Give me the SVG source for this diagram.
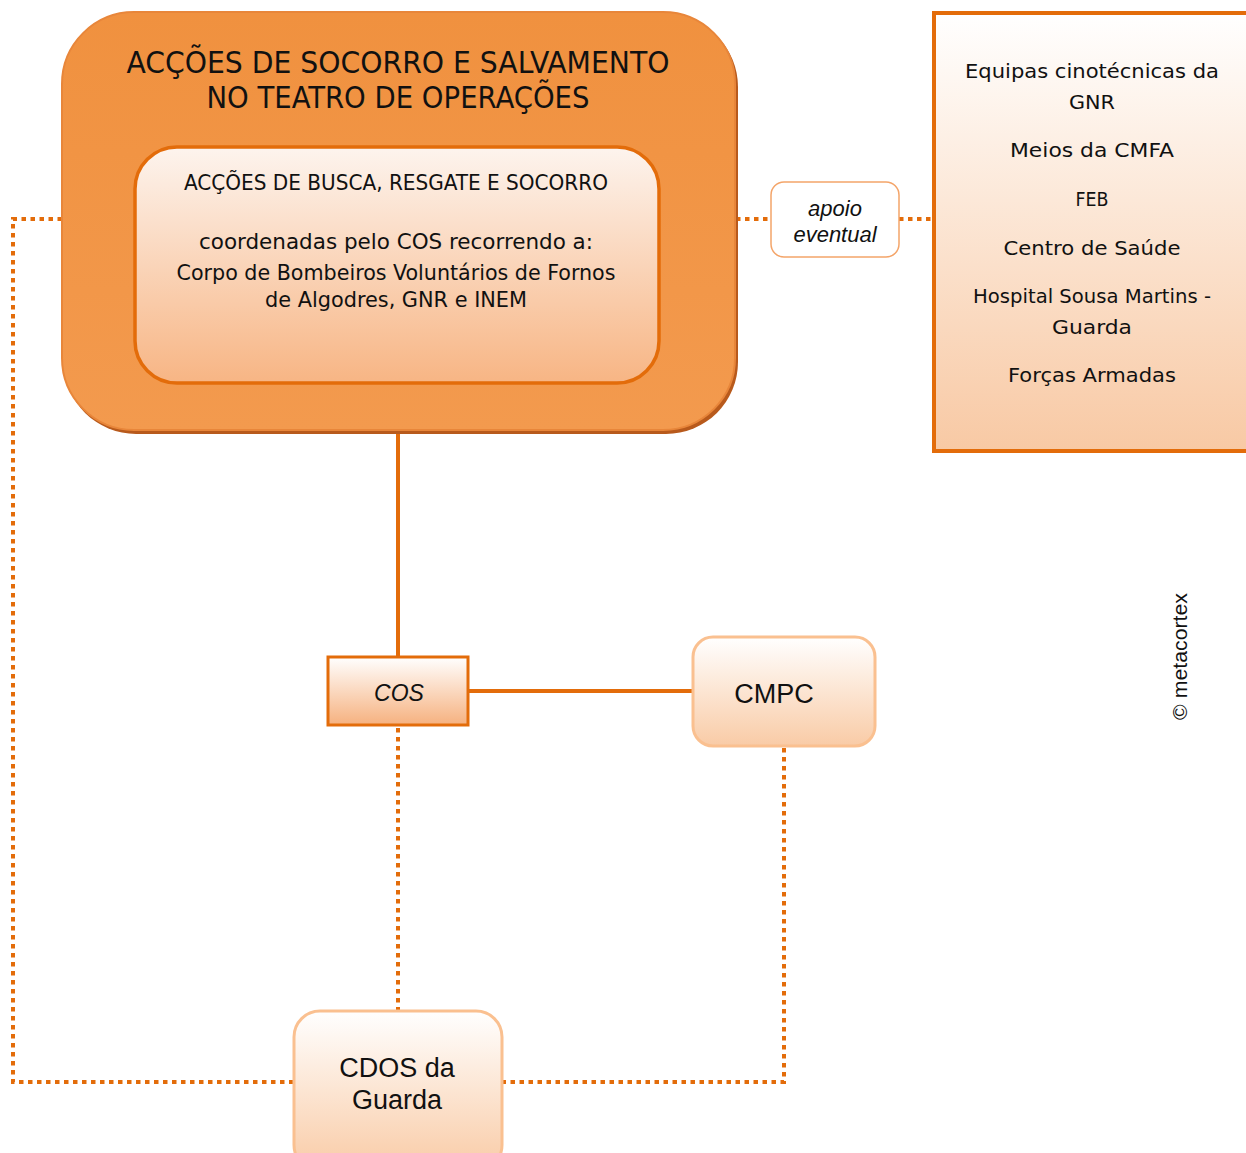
<svg xmlns="http://www.w3.org/2000/svg" width="1246" height="1153" viewBox="0 0 1246 1153">
  <style>
    .t { font-family: "Liberation Sans", "DejaVu Sans", sans-serif; fill: #111; text-anchor: middle; }
    .g { font-family: "DejaVu Sans", "Liberation Sans", sans-serif; fill: #111; text-anchor: middle; }
    .cond { font-family: "DejaVu Sans", "Liberation Sans", sans-serif; font-stretch: condensed; fill: #111; text-anchor: middle; }
    .solid { stroke: #E36C0A; stroke-width: 4; fill: none; }
    .dots { stroke: #E36C0A; stroke-width: 4; fill: none; stroke-dasharray: 4.5 4.5; }
  </style>
  <defs>
    <linearGradient id="gOuter" x1="0" y1="0" x2="0" y2="1">
      <stop offset="0" stop-color="#F0913F"/>
      <stop offset="1" stop-color="#F39A4E"/>
    </linearGradient>
    <linearGradient id="gInner" x1="0" y1="0" x2="0" y2="1">
      <stop offset="0" stop-color="#FDF4EE"/>
      <stop offset="1" stop-color="#F7B584"/>
    </linearGradient>
    <linearGradient id="gSide" x1="0" y1="0" x2="0" y2="1">
      <stop offset="0" stop-color="#FFFFFF"/>
      <stop offset="1" stop-color="#F8C9A4"/>
    </linearGradient>
    <linearGradient id="gCos" x1="0" y1="0" x2="0" y2="1">
      <stop offset="0" stop-color="#FFFFFF"/>
      <stop offset="1" stop-color="#F6B17F"/>
    </linearGradient>
    <linearGradient id="gSoft" x1="0" y1="0" x2="0" y2="1">
      <stop offset="0" stop-color="#FFFFFF"/>
      <stop offset="1" stop-color="#F9CBA6"/>
    </linearGradient>
  </defs>

  <!-- connectors -->
  <g id="connectors">
    <path class="dots" d="M62 219 H13 V1082 H293"/>
    <path class="dots" d="M736 219 H771"/>
    <path class="dots" d="M899 219 H933"/>
    <path class="solid" d="M398 432 V657"/>
    <path class="solid" d="M469 691 H692"/>
    <path class="dots" d="M398 728 V1010"/>
    <path class="dots" d="M784 748 V1082 H503"/>
  </g>

  <!-- main operations block -->
  <g id="node-operacoes">
    <rect x="64" y="15" width="674" height="419" rx="72" fill="#B85A1C"/>
    <rect x="62" y="12" width="673" height="418" rx="72" fill="url(#gOuter)" stroke="#E8863A" stroke-width="2"/>
    <text class="cond" x="398" y="73" font-size="31" textLength="543" lengthAdjust="spacingAndGlyphs">ACÇÕES DE SOCORRO E SALVAMENTO</text>
    <text class="cond" x="398" y="108" font-size="31" textLength="383" lengthAdjust="spacingAndGlyphs">NO TEATRO DE OPERAÇÕES</text>
    <g id="node-busca">
      <rect x="135" y="147" width="524" height="236" rx="42" fill="url(#gInner)" stroke="#E36C0A" stroke-width="3.5"/>
      <text class="cond" x="396" y="190" font-size="21" textLength="424" lengthAdjust="spacingAndGlyphs">ACÇÕES DE BUSCA, RESGATE E SOCORRO</text>
      <text class="cond" x="396" y="249" font-size="21" textLength="394" lengthAdjust="spacingAndGlyphs">coordenadas pelo COS recorrendo a:</text>
      <text class="cond" x="396" y="280" font-size="21" textLength="439" lengthAdjust="spacingAndGlyphs">Corpo de Bombeiros Voluntários de Fornos</text>
      <text class="cond" x="396" y="307" font-size="21" textLength="262" lengthAdjust="spacingAndGlyphs">de Algodres, GNR e INEM</text>
    </g>
  </g>

  <!-- support label -->
  <g id="node-apoio">
    <rect x="771" y="182" width="128" height="75" rx="13" fill="#FFFFFF" stroke="#F4A56A" stroke-width="1.5"/>
    <text class="t" x="835" y="216" font-size="22" font-style="italic">apoio</text>
    <text class="t" x="835" y="242" font-size="22" font-style="italic">eventual</text>
  </g>

  <!-- support entities list -->
  <g id="node-meios">
    <rect x="934" y="13" width="320" height="438" fill="url(#gSide)" stroke="#E36C0A" stroke-width="4"/>
    <text class="g" x="1092" y="78" font-size="20" textLength="254" lengthAdjust="spacingAndGlyphs">Equipas cinotécnicas da</text>
    <text class="g" x="1092" y="109" font-size="20" textLength="46" lengthAdjust="spacingAndGlyphs">GNR</text>
    <text class="g" x="1092" y="157" font-size="20" textLength="164" lengthAdjust="spacingAndGlyphs">Meios da CMFA</text>
    <text class="g" x="1092" y="206" font-size="20" textLength="33" lengthAdjust="spacingAndGlyphs">FEB</text>
    <text class="g" x="1092" y="255" font-size="20" textLength="177" lengthAdjust="spacingAndGlyphs">Centro de Saúde</text>
    <text class="g" x="1092" y="303" font-size="20" textLength="238" lengthAdjust="spacingAndGlyphs">Hospital Sousa Martins -</text>
    <text class="g" x="1092" y="334" font-size="20" textLength="80" lengthAdjust="spacingAndGlyphs">Guarda</text>
    <text class="g" x="1092" y="382" font-size="20" textLength="168" lengthAdjust="spacingAndGlyphs">Forças Armadas</text>
  </g>

  <g id="node-cos">
    <rect x="328" y="657" width="140" height="68" fill="url(#gCos)" stroke="#E36C0A" stroke-width="3"/>
    <text class="t" x="399" y="701" font-size="23" font-style="italic">COS</text>
  </g>

  <g id="node-cmpc">
    <rect x="693" y="637" width="182" height="109" rx="20" fill="url(#gSoft)" stroke="#FAC090" stroke-width="3"/>
    <text class="t" x="774" y="703" font-size="27">CMPC</text>
  </g>

  <g id="node-cdos">
    <rect x="294" y="1011" width="208" height="160" rx="26" fill="url(#gSoft)" stroke="#FAC090" stroke-width="3"/>
    <text class="t" x="397" y="1077" font-size="27">CDOS da</text>
    <text class="t" x="397" y="1109" font-size="27">Guarda</text>
  </g>

  <text class="t" x="0" y="0" font-size="20" transform="translate(1187 656.5) rotate(-90)" textLength="127" lengthAdjust="spacingAndGlyphs">© metacortex</text>
</svg>
